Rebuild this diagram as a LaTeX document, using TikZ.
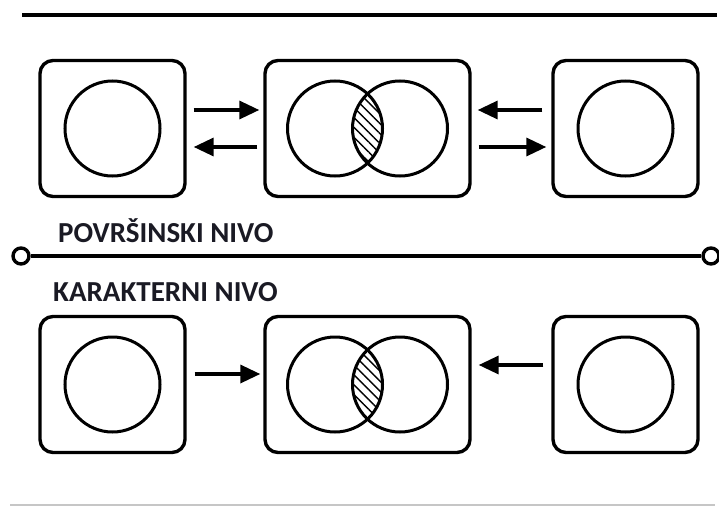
\documentclass[tikz,border=0pt]{standalone}
\usepackage{fontspec}
\setmainfont{Carlito}
\usetikzlibrary{arrows.meta,patterns.meta}
\definecolor{txt}{HTML}{1A1A24}
\tikzset{
  box/.style={draw, line width=3.4pt, rounded corners=13pt, minimum width=145pt, minimum height=136pt, inner sep=0pt},
  widebox/.style={box, minimum width=205pt},
  ring/.style={draw, line width=3pt, circle, minimum size=95pt, inner sep=0pt},
  arr/.style={line width=3.4pt, -{Triangle[length=20pt,width=18pt]}},
  term/.style={draw, line width=3.4pt, circle, minimum size=16pt, inner sep=0pt, fill=white},
  lbl/.style={anchor=west, font=\bfseries\fontsize{29pt}{31pt}\selectfont, text=txt, inner sep=0pt},
  hatch/.style={pattern={Lines[angle=-45,distance=7pt,line width=1.4pt]}}
}
\begin{document}
\begin{tikzpicture}[x=1pt,y=-1pt]
\useasboundingbox (0,0) rectangle (719,506);
% top rule
\draw[line width=4.5pt] (22,15) coordinate (t1) -- (717,15) coordinate (t2);
% top row
\node[box] (a1) at (112.5,128.5) {};
\node[widebox] (a2) at (367.5,128.5) {};
\node[box] (a3) at (625.5,128.5) {};
\node[ring] (ca1) at (a1.center) {};
\node[ring] (ca3) at (a3.center) {};
\begin{scope}
  \clip ([xshift=-32.5pt]a2.center) circle (47.5pt);
  \fill[hatch] ([xshift=32.5pt]a2.center) circle (47.5pt);
\end{scope}
\node[ring] (ca2l) at ([xshift=-32.5pt]a2.center) {};
\node[ring] (ca2r) at ([xshift=32.5pt]a2.center) {};
\draw[arr] ([xshift=7pt]a1.east |- 0,110) -- ([xshift=-4pt]a2.west |- 0,110);
\draw[arr] ([xshift=-6pt]a2.west |- 0,147) -- ([xshift=7pt]a1.east |- 0,147);
\draw[arr] ([xshift=-9pt]a3.west |- 0,110) -- ([xshift=6pt]a2.east |- 0,110);
\draw[arr] ([xshift=7pt]a2.east |- 0,147) -- ([xshift=-5pt]a3.west |- 0,147);
% labels and level line
\node[lbl] (l1) at (58,231) {POVRŠINSKI NIVO};
\node[term] (p1) at (21,256) {};
\node[term] (p2) at (711,256) {};
\draw[line width=3.4pt] (p1) -- (p2);
\node[lbl] (l2) at (53,292) {KARAKTERNI NIVO};
% bottom row
\node[box] (b1) at (112.5,384.5) {};
\node[widebox] (b2) at (367.5,384.5) {};
\node[box] (b3) at (625.5,384.5) {};
\node[ring] (cb1) at (b1.center) {};
\node[ring] (cb3) at (b3.center) {};
\begin{scope}
  \clip ([xshift=-32.5pt]b2.center) circle (47.5pt);
  \fill[hatch] ([xshift=32.5pt]b2.center) circle (47.5pt);
\end{scope}
\node[ring] (cb2l) at ([xshift=-32.5pt]b2.center) {};
\node[ring] (cb2r) at ([xshift=32.5pt]b2.center) {};
\draw[arr] ([xshift=8pt]b1.east |- 0,374) -- ([xshift=-3pt]b2.west |- 0,374);
\draw[arr] ([xshift=-8pt]b3.west |- 0,365) -- ([xshift=7pt]b2.east |- 0,365);
% bottom rule
\draw[line width=2pt, gray!45] (10,505) coordinate (u1) -- (715,505) coordinate (u2);
\end{tikzpicture}
\end{document}
